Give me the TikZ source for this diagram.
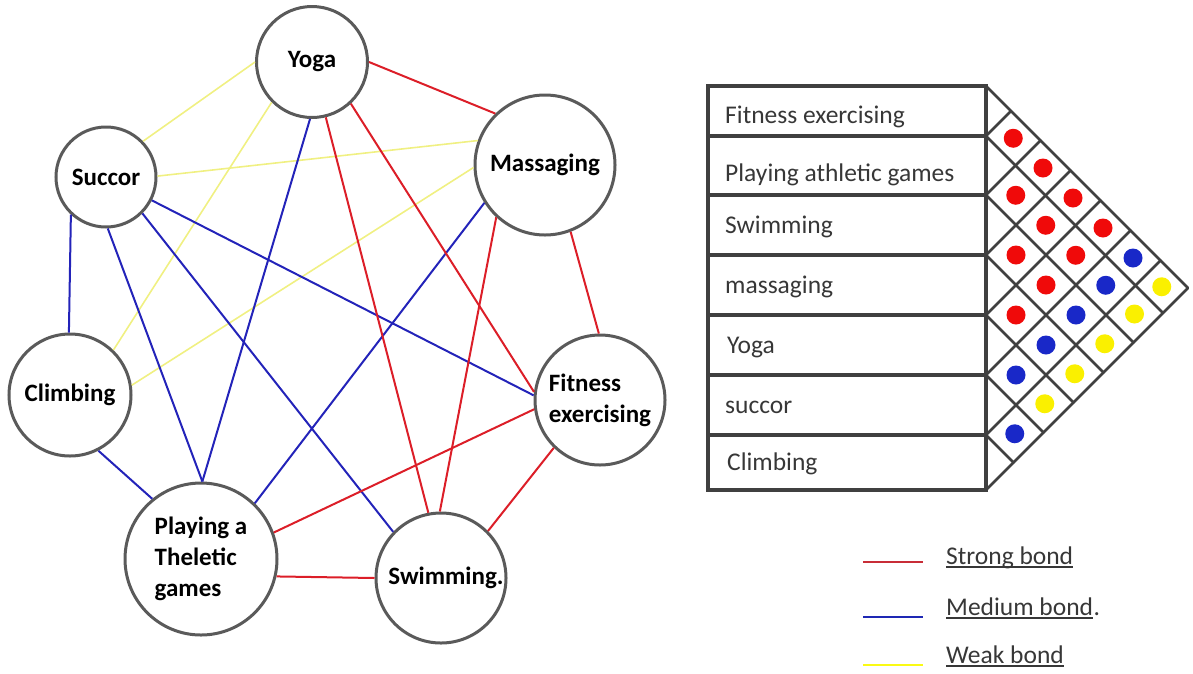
\documentclass[tikz,border=0pt]{standalone}
\usepackage{fontspec}
\setmainfont{Carlito}
\definecolor{redE}{RGB}{220,30,40}
\definecolor{blueE}{RGB}{35,35,185}
\definecolor{yelE}{RGB}{240,240,130}
\definecolor{circ}{RGB}{90,90,90}
\definecolor{gridc}{RGB}{64,64,64}
\definecolor{txtc}{RGB}{55,55,55}
\definecolor{dotR}{RGB}{240,10,10}
\definecolor{dotB}{RGB}{25,40,200}
\definecolor{dotY}{RGB}{250,240,0}
\definecolor{legR}{RGB}{200,45,55}
\definecolor{legB}{RGB}{30,40,180}
\definecolor{legY}{RGB}{250,250,20}
\begin{document}
\begin{tikzpicture}[x=1pt,y=-1pt,
  act/.style={circle, draw=circ, line width=3pt, fill=white, inner sep=0pt,
    font=\fontsize{25}{31}\selectfont\bfseries, align=left},
  strong/.style={draw=redE, line width=2pt},
  medium/.style={draw=blueE, line width=2pt},
  weak/.style={draw=yelE, line width=1.6pt},
  tline/.style={draw=gridc, line width=3.2pt},
  gline/.style={draw=gridc, line width=2.6pt, line cap=round},
  rowtxt/.style={anchor=base west, inner sep=0pt, text=txtc,
    font=\fontsize{25.5}{30}\selectfont},
  legtxt/.style={anchor=base west, inner sep=0pt, text=txtc,
    font=\fontsize{25.5}{30}\selectfont},
  legline/.style={line width=2.6pt}]
\useasboundingbox (0,0) rectangle (1193,673);

% activity nodes
\node[act, minimum size=111pt] (Y) at (312,62) {Yoga};
\node[act, minimum size=100pt] (S) at (106,177) {Succor};
\node[act, minimum size=140pt] (M) at (545,165) {Massaging};
\node[act, minimum size=122pt] (C) at (70,395) {Climbing};
\node[act, minimum size=130pt] (F) at (600,400) {Fitness\\exercising};
\node[act, minimum size=152pt] (P) at (201,559) {Playing a\\Theletic\\games};
\node[act, minimum size=130pt] (W) at (441,578) {\hspace*{10pt}Swimming.};

% weak bonds
\draw[weak] (Y.180) -- (S.44);
\draw[weak] (Y.225) -- (C.46);
\draw[weak] (S.1) -- (M.160);
\draw[weak] (M.182) -- (C.9);
% medium bonds
\draw[medium] (S.227) -- (C.91);
\draw[medium] (S.-88) -- (P.89);
\draw[medium] (S.-45) -- (W.136);
\draw[medium] (S.-27) -- (F.176);
\draw[medium] (Y.-92) -- (P.89);
\draw[medium] (M.212) -- (P.46);
\draw[medium] (C.-63) -- (P.129);
% strong bonds
\draw[strong] (Y.0) -- (M.134);
\draw[strong] (Y.-76) -- (W.101);
\draw[strong] (Y.-47) -- (F.173);
\draw[strong] (M.-69) -- (F.91);
\draw[strong] (M.227) -- (W.91);
\draw[strong] (F.188) -- (P.20);
\draw[strong] (F.226) -- (W.45);
\draw[strong] (P.-13) -- (W.180);

% table
\draw[tline] (708,86) rectangle (986,490);
\foreach \b in {136,195,255,315,375,435} \draw[tline] (708,\b) -- (986,\b);
\node[rowtxt] (r1) at (725,123) {Fitness exercising};
\node[rowtxt] (r2) at (725,181) {Playing athletic games};
\node[rowtxt] (r3) at (725,233) {Swimming};
\node[rowtxt] (r4) at (725,293) {massaging};
\node[rowtxt] (r5) at (727,353) {Yoga};
\node[rowtxt] (r6) at (725,413) {succor};
\node[rowtxt] (r7) at (727,470) {Climbing};

% triangular matrix
\foreach \b in {136,195,255,315,375,435} {
  \draw[gline] (986,\b) -- ({986+(490-\b)/2},{(\b+490)/2});
  \draw[gline] (986,\b) -- ({986+(\b-86)/2},{(\b+86)/2});
}
\draw[gline, line join=round] (986,86) -- (1188,288) -- (986,490);

\foreach \x/\y/\c in {
  1013.25/138.25/dotR, 1015.75/195.25/dotR, 1016/255/dotR, 1016/315/dotR,
  1016/375/dotB, 1014.75/433.75/dotB,
  1043/168/dotR, 1045.75/225.25/dotR, 1046/285/dotR, 1046/345/dotB, 1044.75/403.75/dotY,
  1073/198/dotR, 1075.75/255.25/dotR, 1076/315/dotB, 1074.75/373.75/dotY,
  1103/228/dotR, 1105.75/285.25/dotB, 1104.75/343.75/dotY,
  1133/258/dotB, 1134.5/314/dotY,
  1161.75/286.75/dotY}
  \fill[\c] (\x,\y) circle[radius=9.5pt];

% legend
\draw[legline, legR] (863,562) -- (923,562);
\draw[legline, legB] (863,617) -- (923,617);
\draw[legline, legY] (863,665) -- (923,665);
\node[legtxt] (l1) at (946,564) {Strong bond};
\node[legtxt] (l2) at (946,615) {Medium bond};
\node[legtxt, anchor=base west] (l2p) at (l2.base east) {.};
\node[legtxt] (l3) at (946,663) {Weak bond};
\foreach \n in {l1,l2,l3}
  \draw[txtc, line width=1.6pt] ([yshift=-3pt]\n.base west) -- ([yshift=-3pt]\n.base east);
\end{tikzpicture}
\end{document}
